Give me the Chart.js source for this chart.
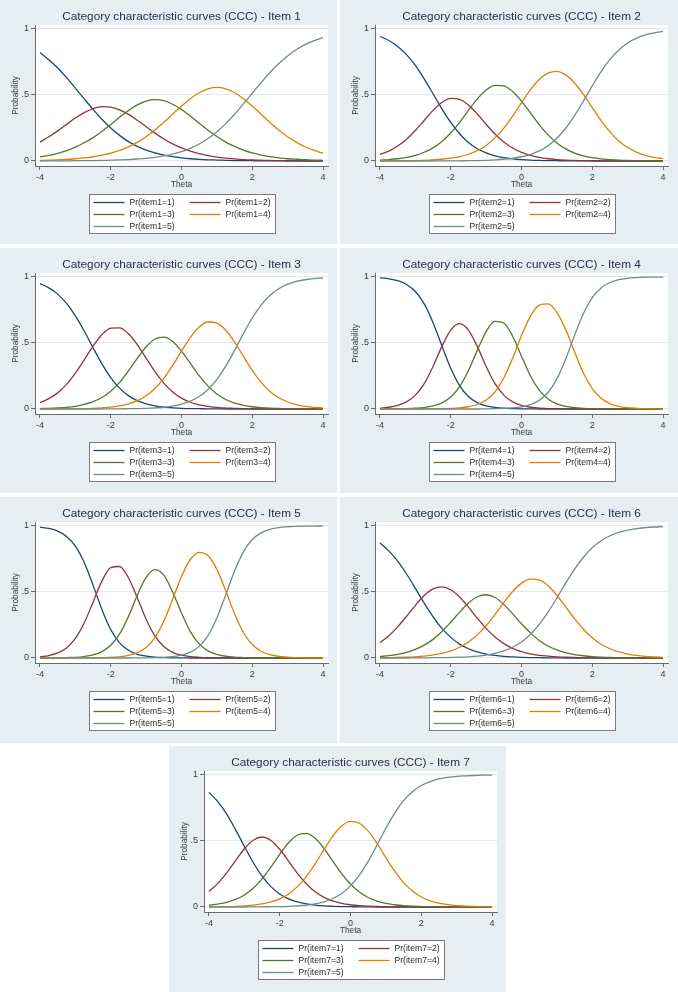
<!DOCTYPE html>
<html>
<head>
<meta charset="utf-8">
<title>Category characteristic curves (CCC)</title>
<script src="https://cdn.jsdelivr.net/npm/chart.js@4.4.1/dist/chart.umd.min.js"></script>
<style>
  html, body { margin: 0; padding: 0; background: #fff; }
  #page { position: relative; width: 678px; height: 992px; overflow: hidden; }
  #page canvas { position: absolute; }
</style>
</head>
<body>
<div id="page"></div>
<script>
// Theta grid and axis ticks
const theta = [-4, -3.75, -3.5, -3.25, -3, -2.75, -2.5, -2.25, -2, -1.75, -1.5, -1.25, -1, -0.75, -0.5, -0.25,
  0, 0.25, 0.5, 0.75, 1, 1.25, 1.5, 1.75, 2, 2.25, 2.5, 2.75, 3, 3.25, 3.5, 3.75, 4];
const xTicks = [-4, -2, 0, 2, 4];
const yTicks = [0, 0.5, 1];

// Item 1
const item1Cat1 = [.821,.767,.704,.631,.552,.471,.391,.316,.250,.194,.147,.111,.082,.061,.045,.033,.024,.017,.012,.009,.007,.005,.003,.003,.002,.001,.001,.001,0,0,0,0,0];
const item1Cat2 = [.143,.183,.228,.277,.325,.366,.397,.412,.408,.387,.353,.308,.260,.211,.167,.130,.099,.075,.056,.041,.030,.022,.016,.011,.008,.006,.004,.003,.002,.002,.001,.001,.001];
const item1Cat3 = [.031,.043,.058,.079,.105,.138,.177,.224,.277,.331,.382,.425,.454,.465,.457,.430,.390,.340,.286,.233,.185,.143,.110,.082,.061,.045,.033,.024,.017,.013,.010,.007,.005];
const item1Cat4 = [.005,.006,.009,.012,.017,.023,.032,.044,.060,.080,.107,.141,.184,.235,.293,.355,.416,.472,.517,.547,.558,.547,.517,.472,.416,.354,.292,.234,.184,.141,.106,.080,.059];
const item1Cat5 = [0,.001,.001,.001,.002,.002,.003,.004,.006,.008,.011,.015,.020,.028,.038,.052,.071,.096,.129,.170,.221,.283,.354,.432,.513,.594,.670,.738,.796,.844,.883,.912,.935];

// Item 2
const item2Cat1 = [.943,.913,.868,.806,.724,.622,.509,.395,.292,.206,.140,.093,.061,.039,.025,.016,.010,.006,.004,.003,.002,.001,.001,.001,0,0,0,0,0,0,0,0,0];
const item2Cat2 = [.049,.075,.113,.165,.231,.307,.383,.443,.474,.467,.424,.356,.278,.205,.144,.098,.065,.042,.027,.017,.011,.007,.004,.003,.002,.001,.001,0,0,0,0,0,0];
const item2Cat3 = [.007,.011,.017,.027,.042,.066,.099,.148,.212,.293,.383,.470,.538,.573,.569,.526,.453,.365,.276,.198,.137,.092,.060,.039,.025,.016,.010,.006,.004,.003,.002,.001,.001];
const item2Cat4 = [.001,.001,.001,.002,.003,.005,.008,.013,.021,.033,.051,.078,.118,.175,.249,.340,.441,.538,.617,.666,.679,.652,.591,.504,.404,.306,.220,.152,.102,.067,.043,.028,.018];
const item2Cat5 = [0,0,0,0,0,0,0,.001,.001,.001,.002,.003,.005,.008,.013,.020,.032,.049,.076,.116,.172,.248,.344,.454,.569,.677,.769,.841,.894,.930,.955,.971,.982];

// Item 3
const item3Cat1 = [.949,.917,.870,.800,.706,.591,.464,.342,.238,.158,.101,.063,.039,.024,.014,.009,.005,.003,.002,.001,.001,0,0,0,0,0,0,0,0,0,0,0,0];
const item3Cat2 = [.048,.078,.122,.186,.272,.372,.476,.562,.612,.615,.570,.488,.385,.283,.196,.129,.082,.051,.031,.019,.012,.007,.005,.003,.002,.001,.001,0,0,0,0,0,0];
const item3Cat3 = [.003,.005,.008,.012,.020,.034,.055,.087,.135,.202,.288,.383,.471,.530,.544,.511,.438,.345,.252,.173,.114,.072,.045,.028,.017,.010,.006,.004,.002,.002,.001,.001,0];
const item3Cat4 = [0,0,.001,.001,.002,.003,.005,.009,.014,.024,.039,.063,.100,.155,.232,.330,.438,.542,.621,.659,.650,.596,.507,.399,.293,.202,.133,.085,.053,.033,.020,.012,.008];
const item3Cat5 = [0,0,0,0,0,0,0,0,.001,.001,.002,.003,.005,.008,.013,.022,.036,.059,.094,.148,.224,.324,.444,.571,.689,.787,.860,.911,.945,.966,.979,.987,.992];

// Item 4
const item4Cat1 = [.993,.986,.972,.943,.890,.796,.654,.478,.308,.177,.094,.048,.024,.012,.006,.003,.001,.001,0,0,0,0,0,0,0,0,0,0,0,0,0,0,0];
const item4Cat2 = [.007,.013,.027,.054,.105,.192,.322,.474,.598,.646,.598,.474,.322,.192,.105,.054,.027,.013,.007,.003,.002,.001,0,0,0,0,0,0,0,0,0,0,0];
const item4Cat3 = [0,.001,.001,.003,.006,.011,.023,.046,.090,.169,.291,.444,.586,.664,.651,.551,.400,.252,.143,.075,.038,.019,.010,.005,.002,.001,.001,0,0,0,0,0,0];
const item4Cat4 = [0,0,0,0,0,.001,.001,.002,.004,.008,.017,.034,.068,.130,.235,.385,.556,.702,.786,.796,.732,.601,.433,.273,.155,.082,.041,.020,.010,.005,.002,.001,.001];
const item4Cat5 = [0,0,0,0,0,0,0,0,0,0,0,0,.001,.002,.004,.008,.016,.033,.065,.125,.228,.379,.558,.723,.843,.917,.958,.979,.990,.995,.998,.999,.999];

// Item 5
const item5Cat1 = [.991,.981,.961,.921,.847,.723,.552,.368,.216,.115,.058,.028,.014,.006,.003,.001,.001,0,0,0,0,0,0,0,0,0,0,0,0,0,0,0,0];
const item5Cat2 = [.009,.018,.038,.076,.148,.265,.423,.582,.684,.693,.608,.457,.294,.167,.087,.043,.021,.010,.005,.002,.001,.001,0,0,0,0,0,0,0,0,0,0,0];
const item5Cat3 = [0,.001,.001,.003,.005,.011,.023,.048,.096,.182,.315,.475,.611,.669,.627,.500,.340,.200,.107,.054,.027,.013,.006,.003,.001,.001,0,0,0,0,0,0,0];
const item5Cat4 = [0,0,0,0,0,.001,.001,.002,.004,.009,.019,.040,.080,.155,.278,.445,.618,.746,.800,.774,.671,.509,.335,.193,.102,.051,.025,.012,.006,.003,.001,.001,0];
const item5Cat5 = [0,0,0,0,0,0,0,0,0,0,0,.001,.001,.002,.005,.010,.021,.044,.088,.169,.302,.478,.659,.804,.897,.948,.975,.988,.994,.997,.999,.999,1];

// Item 6
const item6Cat1 = [.871,.811,.733,.636,.527,.415,.312,.224,.156,.105,.070,.046,.030,.019,.012,.008,.005,.003,.002,.001,.001,0,0,0,0,0,0,0,0,0,0,0,0];
const item6Cat2 = [.116,.168,.236,.315,.399,.473,.523,.539,.517,.462,.385,.302,.224,.159,.109,.073,.048,.031,.020,.014,.009,.006,.004,.002,.002,.001,.001,0,0,0,0,0,0];
const item6Cat3 = [.011,.018,.028,.043,.065,.097,.141,.200,.271,.347,.416,.464,.479,.458,.406,.334,.259,.190,.133,.091,.061,.040,.026,.017,.011,.007,.004,.003,.002,.001,.001,0,0];
const item6Cat4 = [.002,.003,.004,.006,.009,.014,.023,.035,.053,.081,.120,.175,.245,.329,.420,.504,.567,.598,.591,.548,.475,.387,.298,.218,.153,.104,.070,.046,.030,.019,.012,.008,.005];
const item6Cat5 = [0,0,0,0,.001,.001,.002,.002,.004,.006,.009,.014,.022,.035,.053,.081,.121,.178,.254,.348,.455,.567,.673,.763,.835,.888,.926,.951,.968,.980,.987,.992,.995];

// Item 7
const item7Cat1 = [.868,.798,.703,.586,.459,.337,.233,.154,.099,.061,.038,.023,.014,.008,.005,.003,.002,.001,.001,0,0,0,0,0,0,0,0,0,0,0,0,0,0];
const item7Cat2 = [.118,.179,.259,.351,.441,.506,.530,.504,.437,.347,.255,.176,.115,.073,.046,.028,.017,.010,.006,.004,.002,.002,.001,.001,0,0,0,0,0,0,0,0,0];
const item7Cat3 = [.013,.022,.035,.057,.091,.142,.213,.302,.399,.487,.545,.557,.520,.444,.348,.253,.174,.114,.072,.045,.027,.017,.010,.006,.004,.002,.001,.001,0,0,0,0,0];
const item7Cat4 = [.001,.002,.003,.005,.009,.014,.023,.038,.062,.099,.154,.230,.327,.435,.537,.613,.648,.634,.575,.482,.374,.271,.185,.121,.076,.047,.029,.018,.011,.007,.004,.002,.001];
const item7Cat5 = [0,0,0,0,0,.001,.001,.002,.003,.005,.009,.014,.024,.039,.064,.102,.160,.241,.346,.469,.596,.711,.805,.873,.920,.950,.970,.982,.989,.993,.996,.998,.999];

// Stata s2color palette
const colors = ['#1a476f', '#90353b', '#55752f', '#e37e00', '#6e8e84'];
const BG = '#e7eef1';
const AXIS = '#6b6b6b';
const FONT = "'Liberation Sans', Arial, sans-serif";

// Panel placement on the page
const panels = [
  { item: 1, left: 0,   top: 0,   w: 337, h: 244, series: [item1Cat1, item1Cat2, item1Cat3, item1Cat4, item1Cat5] },
  { item: 2, left: 340, top: 0,   w: 338, h: 244, series: [item2Cat1, item2Cat2, item2Cat3, item2Cat4, item2Cat5] },
  { item: 3, left: 0,   top: 248, w: 337, h: 245, series: [item3Cat1, item3Cat2, item3Cat3, item3Cat4, item3Cat5] },
  { item: 4, left: 340, top: 248, w: 338, h: 245, series: [item4Cat1, item4Cat2, item4Cat3, item4Cat4, item4Cat5] },
  { item: 5, left: 0,   top: 497, w: 337, h: 246, series: [item5Cat1, item5Cat2, item5Cat3, item5Cat4, item5Cat5] },
  { item: 6, left: 340, top: 497, w: 338, h: 246, series: [item6Cat1, item6Cat2, item6Cat3, item6Cat4, item6Cat5] },
  { item: 7, left: 169, top: 746, w: 337, h: 246, series: [item7Cat1, item7Cat2, item7Cat3, item7Cat4, item7Cat5] }
];

// Background, white plot region, title and boxed legend
const stataDecor = {
  id: 'stataDecor',
  beforeDraw(chart) {
    const { ctx, chartArea: a } = chart;
    ctx.save();
    ctx.fillStyle = BG;
    ctx.fillRect(0, 0, chart.width, chart.height);
    ctx.fillStyle = '#fff';
    ctx.fillRect(a.left, a.top, a.right - a.left, a.bottom - a.top);
    ctx.restore();
  },
  afterDraw(chart) {
    const { ctx, chartArea: a } = chart;
    const cx = (a.left + a.right) / 2;
    ctx.save();

    // title
    ctx.fillStyle = '#22304f';
    ctx.font = `11.8px ${FONT}`;
    ctx.textAlign = 'center';
    ctx.textBaseline = 'alphabetic';
    ctx.fillText(chart.options.plugins.stataDecor.title, cx, 20);

    // legend box
    const bx = Math.round(cx - 93) + 0.5;
    const by = a.bottom + 28.5;
    ctx.fillStyle = '#fff';
    ctx.fillRect(bx, by, 186, 39);
    ctx.strokeStyle = '#7a7a7a';
    ctx.lineWidth = 1;
    ctx.strokeRect(bx, by, 186, 39);

    ctx.font = `8.6px ${FONT}`;
    ctx.textAlign = 'left';
    ctx.textBaseline = 'middle';
    chart.data.datasets.forEach((ds, i) => {
      const col = i % 2;
      const row = Math.floor(i / 2);
      const x0 = bx + (col === 0 ? 4 : 100);
      const y0 = by + 8 + row * 12;
      ctx.strokeStyle = ds.borderColor;
      ctx.lineWidth = 1.3;
      ctx.beginPath();
      ctx.moveTo(x0, y0);
      ctx.lineTo(x0 + 31, y0);
      ctx.stroke();
      ctx.fillStyle = '#2a2a2a';
      ctx.fillText(ds.label, x0 + 36, y0 + 0.5);
    });
    ctx.restore();
  }
};

function makePanel(p) {
  const canvas = document.createElement('canvas');
  canvas.width = p.w;
  canvas.height = p.h;
  canvas.style.left = p.left + 'px';
  canvas.style.top = p.top + 'px';
  document.getElementById('page').appendChild(canvas);

  const datasets = p.series.map((vals, k) => ({
    label: `Pr(item${p.item}=${k + 1})`,
    data: theta.map((t, i) => ({ x: t, y: vals[i] })),
    borderColor: colors[k],
    order: 5 - k
  }));

  new Chart(canvas, {
    type: 'line',
    data: { datasets },
    options: {
      responsive: false,
      animation: false,
      events: [],
      layout: { padding: { top: 25, right: p.w - 328, bottom: p.h - 166 - 27, left: 0 } },
      elements: {
        point: { radius: 0 },
        line: { borderWidth: 1.3, cubicInterpolationMode: 'monotone', fill: false }
      },
      plugins: {
        legend: { display: false },
        title: { display: false },
        tooltip: { enabled: false },
        stataDecor: { title: `Category characteristic curves (CCC) - Item ${p.item}` }
      },
      scales: {
        x: {
          type: 'linear',
          min: -4.141,
          max: 4.141,
          afterBuildTicks: s => { s.ticks = xTicks.map(v => ({ value: v })); },
          afterFit: s => { s.height = 27; },
          ticks: {
            autoSkip: false, maxRotation: 0, padding: 2,
            color: '#3a3a3a', font: { family: FONT, size: 9 },
            callback: v => String(v)
          },
          grid: { drawOnChartArea: false, tickLength: 4, tickColor: AXIS, color: AXIS },
          border: { display: true, color: AXIS, width: 1 },
          title: {
            display: true, text: 'Theta', color: '#3a3a3a',
            font: { family: FONT, size: 8.3 }, padding: { top: 0, bottom: 3.5 }
          }
        },
        y: {
          min: -0.038,
          max: 1.03,
          afterBuildTicks: s => { s.ticks = yTicks.map(v => ({ value: v })); },
          afterFit: s => { s.width = 35; },
          ticks: {
            autoSkip: false, padding: 2,
            color: '#3a3a3a', font: { family: FONT, size: 9 },
            callback: v => (v === 0.5 ? '.5' : String(v))
          },
          grid: { drawOnChartArea: true, color: '#e2e9ed', tickLength: 4, tickColor: AXIS },
          border: { display: true, color: AXIS, width: 1 },
          title: {
            display: true, text: 'Probability', color: '#3a3a3a',
            font: { family: FONT, size: 8.3 }, padding: { top: 10.5, bottom: 0 }
          }
        }
      }
    },
    plugins: [stataDecor]
  });
}

panels.forEach(makePanel);
</script>
</body>
</html>
